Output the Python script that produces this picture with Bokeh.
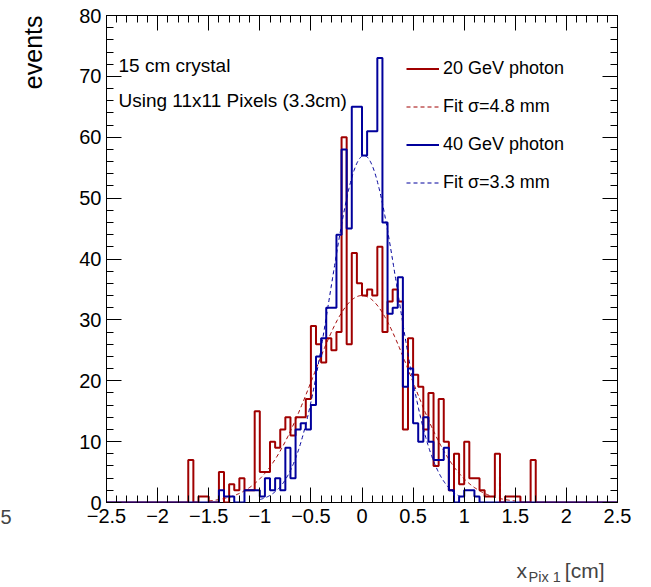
import numpy as np
from bokeh.plotting import figure
from bokeh.models import (Range1d, LinearAxis, FixedTicker, Label, Legend,
                          LegendItem, CustomJSTickFormatter)
from bokeh.embed import file_html
from bokeh.resources import INLINE

# ---------------- data ----------------
x_lo, x_hi = -2.5, 2.5
y_lo, y_hi = 0, 80
bin_width = 0.05

# 20 GeV photon histogram, consecutive bins starting at red_first_bin
red_first_bin = -1.70
red_counts = [7, 0, 1, 1, 0, 0, 5, 0, 3, 2,
              4, 2, 2, 15, 5, 5, 10, 9, 12, 14,
              11, 14, 14, 17, 29, 26, 23, 27, 25, 28,
              60, 26, 41, 36, 34, 35, 34, 42, 28, 33,
              35, 33, 12, 27, 21, 19, 12, 18, 6, 17,
              10, 2, 8, 3, 10, 4, 4, 2, 1, 1,
              8, 0, 1, 1, 1, 0, 0, 7]

# 40 GeV photon histogram
blue_first_bin = -1.40
blue_counts = [2, 1, 1, 0, 0, 2, 2, 2, 1, 4,
               2, 4, 2, 9, 4, 12, 13, 12, 16, 24,
               27, 32, 32, 44, 58, 45, 65, 65, 57, 61,
               61, 73, 46, 31, 32, 37, 19, 22, 13, 10,
               14, 10, 7, 7, 9, 2, 0, 1, 2, 2,
               1]

# Gaussian fits (amplitude, mean [cm], sigma [cm], fit range [cm])
red_fit_amp, red_fit_mean, red_fit_sigma = 34.0, 0.0, 0.48
red_fit_range = (-1.5, 1.5)
blue_fit_amp, blue_fit_mean, blue_fit_sigma = 57.0, 0.02, 0.33
blue_fit_range = (-1.0, 1.0)

x_major_ticks = [-2.5, -2.0, -1.5, -1.0, -0.5, 0.0, 0.5, 1.0, 1.5, 2.0, 2.5]
x_tick_labels = ["\u22122.5", "\u22122", "\u22121.5", "\u22121", "\u22120.5",
                 "0", "0.5", "1", "1.5", "2", "2.5"]
y_major_ticks = [0, 10, 20, 30, 40, 50, 60, 70, 80]
y_tick_labels = ["0", "10", "20", "30", "40", "50", "60", "70", "80"]

legend_labels = ["20 GeV photon", "Fit \u03c3=4.8 mm",
                 "40 GeV photon", "Fit \u03c3=3.3 mm"]
note_lines = ["15 cm crystal", "Using 11x11 Pixels (3.3cm)"]

# ---------------- derived ----------------
n_bins = int(round((x_hi - x_lo) / bin_width))
edges = x_lo + bin_width * np.arange(n_bins + 1)


def full_hist(first_bin, counts):
    arr = np.zeros(n_bins)
    start = int(round((first_bin - x_lo) / bin_width))
    arr[start:start + len(counts)] = counts
    return np.append(arr, arr[-1])


red_y = full_hist(red_first_bin, red_counts)
blue_y = full_hist(blue_first_bin, blue_counts)


def gauss_curve(amp, mean, sigma, rng):
    xs = np.linspace(rng[0], rng[1], 400)
    return xs, amp * np.exp(-0.5 * ((xs - mean) / sigma) ** 2)


rfx, rfy = gauss_curve(red_fit_amp, red_fit_mean, red_fit_sigma, red_fit_range)
bfx, bfy = gauss_curve(blue_fit_amp, blue_fit_mean, blue_fit_sigma, blue_fit_range)

# ---------------- layout ----------------
FL, FT, FW, FH = 106, 15, 511, 487
FONT = "Liberation Sans"
RED = "#a00000"
BLUE = "#00009c"


def X(px):
    return x_lo + (px - FL) / FW * (x_hi - x_lo)


def Y(py):
    return y_lo + (FT + FH - py) / FH * (y_hi - y_lo)


p = figure(frame_width=FW, frame_height=FH,
           x_range=Range1d(x_lo, x_hi), y_range=Range1d(y_lo, y_hi),
           output_backend="svg", toolbar_location=None,
           min_border_left=FL, min_border_right=651 - FL - FW,
           min_border_top=FT, min_border_bottom=587 - FT - FH,
           background_fill_color="white", border_fill_color="white")
p.grid.visible = False
p.outline_line_color = "black"
p.outline_line_width = 1

x_minor = [round(v, 2) for v in np.arange(x_lo, x_hi + 1e-9, 0.1)]
y_minor = list(range(0, 81, 2))
xticker = FixedTicker(ticks=x_major_ticks, minor_ticks=x_minor)
yticker = FixedTicker(ticks=y_major_ticks, minor_ticks=y_minor)

for ax in p.xaxis:
    ax.ticker = xticker
    ax.major_label_overrides = {t: s for t, s in zip(x_major_ticks, x_tick_labels)}
    ax.major_label_standoff = 6
for ax in p.yaxis:
    ax.ticker = yticker
    ax.major_label_overrides = {t: s for t, s in zip(y_major_ticks, y_tick_labels)}
    ax.major_label_standoff = 5

for ax in list(p.xaxis) + list(p.yaxis):
    ax.axis_line_color = None
    ax.major_tick_in = 15
    ax.major_tick_out = 0
    ax.minor_tick_in = 7
    ax.minor_tick_out = 0
    ax.major_tick_line_color = "black"
    ax.minor_tick_line_color = "black"
    ax.major_label_text_font = FONT
    ax.major_label_text_font_size = "20px"
    ax.major_label_text_color = "black"

blank = CustomJSTickFormatter(code="return ''")
for loc, tk in (("above", xticker), ("right", yticker)):
    ax = LinearAxis(ticker=tk, formatter=blank, axis_line_color=None,
                    major_tick_in=15, major_tick_out=0,
                    minor_tick_in=7, minor_tick_out=0,
                    major_label_text_font_size="0px", major_label_standoff=0)
    p.add_layout(ax, loc)

# histograms and fits
r_red = p.step(edges, red_y, mode="after", line_color=RED, line_width=2)
r_red_fit = p.line(rfx, rfy, line_color=RED, line_width=1, line_dash="4 3")
r_blue = p.step(edges, blue_y, mode="after", line_color=BLUE, line_width=2)
r_blue_fit = p.line(bfx, bfy, line_color=BLUE, line_width=1, line_dash="4 3")

legend = Legend(items=[LegendItem(label=legend_labels[0], renderers=[r_red]),
                       LegendItem(label=legend_labels[1], renderers=[r_red_fit]),
                       LegendItem(label=legend_labels[2], renderers=[r_blue]),
                       LegendItem(label=legend_labels[3], renderers=[r_blue_fit])],
                location=(300, 309), border_line_color=None,
                background_fill_alpha=0, padding=0, margin=0, spacing=17,
                glyph_width=33, glyph_height=21, label_height=21,
                label_standoff=4, label_text_font=FONT,
                label_text_font_size="18px", label_text_color="black")
p.add_layout(legend)

# text annotations inside the frame
for txt, py in zip(note_lines, (65, 100)):
    p.add_layout(Label(x=X(118), y=Y(py), text=txt, text_font=FONT,
                       text_font_size="19px", text_baseline="alphabetic",
                       text_color="black"))

# texts outside the frame go into side panels (not clipped there);
# data units keep their position independent of the panel
p.add_layout(Label(x=X(32), y=Y(15), text="events", angle=np.pi / 2,
                   text_align="right", text_baseline="alphabetic",
                   text_font=FONT, text_font_size="25px", text_color="black"),
             "left")
p.add_layout(Label(x=X(516), y=Y(570), text="x", text_font=FONT,
                   text_font_size="21px", text_baseline="alphabetic"),
             "below")
p.add_layout(Label(x=X(604), y=Y(570), text="[cm]", text_font=FONT,
                   text_font_size="21px", text_align="right",
                   text_baseline="alphabetic"),
             "below")
p.add_layout(Label(x=X(528), y=Y(576), text="Pix 1", text_font=FONT,
                   text_font_size="14.5px", text_baseline="alphabetic"),
             "right")
# clipped label fragment at the far left edge of the picture
p.add_layout(Label(x=X(0), y=Y(509), text="5", text_font=FONT,
                   text_font_size="20px", text_baseline="top"),
             "left")

open("out.html", "w").write(file_html(p, INLINE))
